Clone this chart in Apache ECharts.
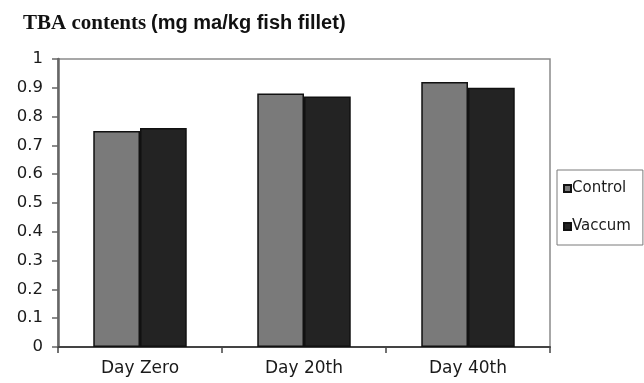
<!DOCTYPE html>
<html>
<head>
<meta charset="utf-8">
<script src="https://cdn.jsdelivr.net/npm/echarts@6/dist/echarts.min.js"></script>
<style>
  html, body { margin: 0; padding: 0; background: #fff; }
  #chart { width: 644px; height: 383px; }
</style>
</head>
<body>
<div id="chart"></div>
<script>
// Storage days and TBA values (mg malonaldehyde / kg fish fillet)
const categories = ['Day Zero', 'Day 20th', 'Day 40th'];
const controlValues = [0.75, 0.88, 0.92];
const vaccumValues = [0.76, 0.87, 0.90];
const seriesNames = ['Control', 'Vaccum'];

const axisFont = 'DejaVu Sans, Arial, sans-serif';

const chart = echarts.init(document.getElementById('chart'), null, { renderer: 'canvas' });

chart.setOption({
  backgroundColor: '#ffffff',
  animation: false,
  title: {
    left: 18,
    top: 8,
    text: '{a|TBA contents} {b|(mg ma/kg fish fillet)}',
    textStyle: {
      rich: {
        a: { fontFamily: 'Liberation Serif, Times New Roman, serif', fontWeight: 'bold', fontSize: 21, color: '#111' },
        b: { fontFamily: 'Liberation Sans, Arial, sans-serif', fontWeight: 'bold', fontSize: 20, color: '#111' }
      }
    }
  },
  grid: {
    left: 58,
    right: 94,
    top: 59,
    bottom: 36,
    show: true,
    borderColor: '#8a8a8a',
    borderWidth: 1.5,
    backgroundColor: '#ffffff'
  },
  legend: {
    orient: 'vertical',
    left: 557,
    top: 170,
    padding: [11, 12, 11, 6],
    itemGap: 23,
    itemWidth: 7,
    itemHeight: 7,
    icon: 'rect',
    borderColor: '#7a7a7a',
    borderWidth: 1,
    textStyle: { fontFamily: axisFont, fontSize: 15, color: '#1a1a1a', padding: [0, 0, 0, -4] },
    data: seriesNames
  },
  xAxis: {
    type: 'category',
    data: categories,
    axisLine: { lineStyle: { color: '#444', width: 2 } },
    axisTick: { show: true, length: 6, lineStyle: { color: '#444', width: 1.5 } },
    axisLabel: { fontFamily: axisFont, fontSize: 17, color: '#1a1a1a', margin: 13 }
  },
  yAxis: {
    type: 'value',
    min: 0,
    max: 1,
    interval: 0.1,
    splitLine: { show: false },
    axisLine: { show: true, lineStyle: { color: '#666', width: 2.5 } },
    axisTick: { show: true, length: 6, lineStyle: { color: '#666', width: 1.5 } },
    axisLabel: { fontFamily: axisFont, fontSize: 16.5, color: '#1a1a1a', margin: 15 }
  },
  series: [
    {
      name: seriesNames[0],
      type: 'bar',
      data: controlValues,
      barGap: '0%',
      barCategoryGap: '43%',
      itemStyle: { color: '#7a7a7a', borderColor: '#111', borderWidth: 1.5 }
    },
    {
      name: seriesNames[1],
      type: 'bar',
      data: vaccumValues,
      itemStyle: { color: '#232323', borderColor: '#111', borderWidth: 1.5 }
    }
  ]
});
</script>
</body>
</html>
